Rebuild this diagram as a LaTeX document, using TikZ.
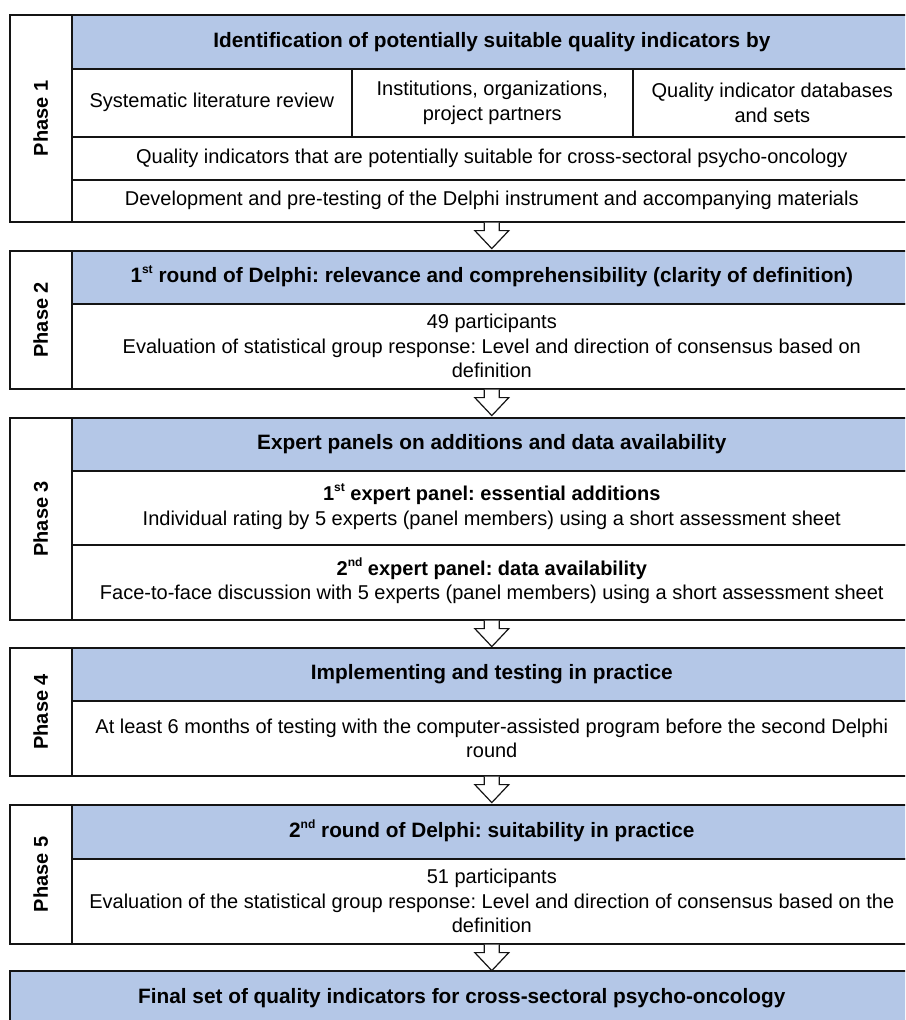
\documentclass[tikz,border=0pt]{standalone}
\usepackage{fontspec}
\setmainfont{Liberation Sans}
\frenchspacing
\definecolor{headblue}{RGB}{180,199,231}
\definecolor{edge}{RGB}{20,20,20}
% superscript ordinal, raised without changing the line height
\newcommand{\ordsup}[1]{\raisebox{9pt}[0pt][0pt]{\fontsize{12}{12}\selectfont #1}}
% rectangular cell given by its top-left corner and size
\newcommand{\cell}[7]{\node[#6, minimum width=#4pt, minimum height=#5pt, anchor=north west] (#1) at (#2,#3) {#7};}
\tikzset{
  x=1pt, y=-1pt,
  box/.style={draw=edge, line width=1.6pt, inner sep=0pt, align=center,
    font=\fontsize{20}{24.5}\selectfont},
  head/.style={box, fill=headblue, font=\fontsize{20.8}{25}\selectfont\bfseries},
  plain/.style={box, fill=white},
  phaselabel/.style={rotate=90, font=\fontsize{20}{24}\selectfont\bfseries, inner sep=0pt},
  blockarrow/.style={draw=edge, fill=white, line width=1.2pt, line join=miter},
}
% hollow down arrow from a box's bottom edge to the next box
\newcommand{\downarr}[1]{\draw[blockarrow] (#1) ++(-7.5,0) -- ++(0,8) -- ++(-9.5,0) -- ++(17,18) -- ++(17,-18) -- ++(-9.5,0) -- ++(0,-8);}
\begin{document}
\begin{tikzpicture}
\useasboundingbox (0,0) rectangle (905,1020);
\clip (0,0) rectangle (905,1020);

% Phase 1
\cell{p1col}{9}{14}{62}{207}{plain}{}
\node[phaselabel] (p1lab) at (p1col.center) {Phase 1};
\cell{p1h}{71}{14}{840}{54}{head}{Identification of potentially suitable quality indicators by}
\cell{p1a}{71}{68}{280}{68}{plain}{Systematic literature review}
\cell{p1b}{351}{68}{281}{68}{plain}{Institutions, organizations,\\ project partners}
\cell{p1c}{632}{68}{279}{68}{plain}{Quality indicator databases\\ and sets}
\cell{p1d}{71}{136}{840}{43}{plain}{Quality indicators that are potentially suitable for cross-sectoral psycho-oncology}
\cell{p1e}{71}{179}{840}{42}{plain}{Development and pre-testing of the Delphi instrument and accompanying materials}
\downarr{p1e.south}

% Phase 2
\cell{p2col}{9}{250}{62}{138}{plain}{}
\node[phaselabel] (p2lab) at (p2col.center) {Phase 2};
\cell{p2h}{71}{250}{840}{53}{head}{1\ordsup{st} round of Delphi: relevance and comprehensibility (clarity of definition)}
\cell{p2b}{71}{303}{840}{85}{plain}{49 participants\\ Evaluation of statistical group response: Level and direction of consensus based on\\ definition}
\downarr{p2b.south}

% Phase 3
\cell{p3col}{9}{417}{62}{202}{plain}{}
\node[phaselabel] (p3lab) at (p3col.center) {Phase 3};
\cell{p3h}{71}{417}{840}{53}{head}{Expert panels on additions and data availability}
\cell{p3a}{71}{470}{840}{74}{plain}{\textbf{1\ordsup{st} expert panel: essential additions}\\ Individual rating by 5 experts (panel members) using a short assessment sheet}
\cell{p3b}{71}{544}{840}{75}{plain}{\textbf{2\ordsup{nd} expert panel: data availability}\\ Face-to-face discussion with 5 experts (panel members) using a short assessment sheet}
\downarr{p3b.south}

% Phase 4
\cell{p4col}{9}{647}{62}{128}{plain}{}
\node[phaselabel] (p4lab) at (p4col.center) {Phase 4};
\cell{p4h}{71}{647}{840}{53}{head}{Implementing and testing in practice}
\cell{p4b}{71}{700}{840}{75}{plain}{At least 6 months of testing with the computer-assisted program before the second Delphi\\ round}
\downarr{p4b.south}

% Phase 5
\cell{p5col}{9}{804}{62}{139}{plain}{}
\node[phaselabel] (p5lab) at (p5col.center) {Phase 5};
\cell{p5h}{71}{804}{840}{54}{head}{2\ordsup{nd} round of Delphi: suitability in practice}
\cell{p5b}{71}{858}{840}{85}{plain}{51 participants\\ Evaluation of the statistical group response: Level and direction of consensus based on the\\ definition}
\downarr{p5b.south}

% Result
\cell{fin}{9}{970}{904}{54}{head}{Final set of quality indicators for cross-sectoral psycho-oncology}
\end{tikzpicture}
\end{document}
